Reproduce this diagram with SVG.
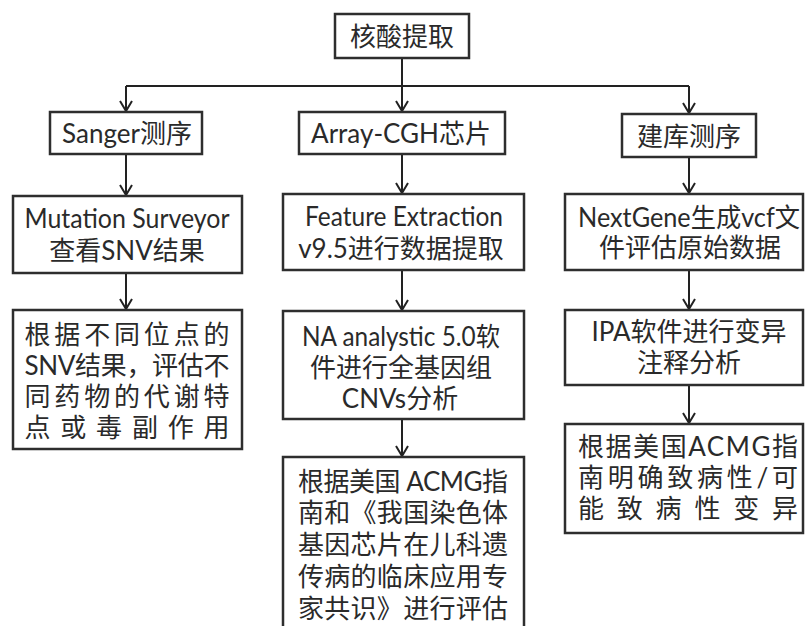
<svg xmlns="http://www.w3.org/2000/svg" width="806" height="626" viewBox="0 0 806 626">
  <style>
    .box { fill: #ffffff; stroke: #2e2e2e; stroke-width: 2.5; }
    .wire { fill: none; stroke: #222222; stroke-width: 2; }
    .t { font-family: Lato, "Noto Sans CJK SC", sans-serif; font-size: 26px; fill: #2a2a2a; text-anchor: middle; }
  </style>
  <defs>
    <marker id="arrow" markerUnits="userSpaceOnUse" markerWidth="14" markerHeight="14" viewBox="0 0 14 14" refX="12" refY="7" orient="auto">
      <path d="M2,1 L12,7 L2,13" fill="none" stroke="#222222" stroke-width="2"/>
    </marker>
  </defs>
  <rect width="806" height="626" fill="#ffffff"/>

  <!-- connectors -->
  <g id="connectors">
    <path class="wire" d="M402,58 V86"/>
    <path class="wire" d="M126,86 H689"/>
    <path class="wire" d="M126,86 V111" marker-end="url(#arrow)"/>
    <path class="wire" d="M402,86 V111" marker-end="url(#arrow)"/>
    <path class="wire" d="M689,86 V113" marker-end="url(#arrow)"/>
    <path class="wire" d="M126,154 V195" marker-end="url(#arrow)"/>
    <path class="wire" d="M126,273 V309" marker-end="url(#arrow)"/>
    <path class="wire" d="M402,154 V193" marker-end="url(#arrow)"/>
    <path class="wire" d="M402,270 V310" marker-end="url(#arrow)"/>
    <path class="wire" d="M402,419 V456" marker-end="url(#arrow)"/>
    <path class="wire" d="M689,157 V193" marker-end="url(#arrow)"/>
    <path class="wire" d="M689,270 V309" marker-end="url(#arrow)"/>
    <path class="wire" d="M689,385 V423" marker-end="url(#arrow)"/>
  </g>

  <g id="n-extract">
    <rect class="box" x="335" y="14" width="134" height="44"/>
    <text class="t" x="402" y="46">核酸提取</text>
  </g>

  <g id="n-sanger">
    <rect class="box" x="50" y="112" width="152" height="42"/>
    <text class="t" x="127" y="143">Sanger测序</text>
  </g>
  <g id="n-array">
    <rect class="box" x="299" y="112" width="206" height="42"/>
    <text class="t" x="401" y="143">Array-CGH芯片</text>
  </g>
  <g id="n-library">
    <rect class="box" x="622" y="114" width="134" height="43"/>
    <text class="t" x="689" y="146">建库测序</text>
  </g>

  <g id="n-mutation">
    <rect class="box" x="13" y="196" width="229" height="77"/>
    <text class="t" x="127" y="228" textLength="205" lengthAdjust="spacingAndGlyphs">Mutation Surveyor</text>
    <text class="t" x="127" y="260">查看SNV结果</text>
  </g>
  <g id="n-feature">
    <rect class="box" x="283" y="194" width="241" height="76"/>
    <text class="t" x="404" y="226" textLength="198" lengthAdjust="spacingAndGlyphs">Feature Extraction</text>
    <text class="t" x="401" y="258">v9.5进行数据提取</text>
  </g>
  <g id="n-nextgene">
    <rect class="box" x="565" y="194" width="238" height="76"/>
    <text class="t" x="689" y="227" textLength="222" lengthAdjust="spacingAndGlyphs">NextGene生成vcf文</text>
    <text class="t" x="690" y="257">件评估原始数据</text>
  </g>

  <g id="n-snv">
    <rect class="box" x="13" y="310" width="229" height="139"/>
    <text class="t" x="127" y="344" textLength="205" lengthAdjust="spacing">根据不同位点的</text>
    <text class="t" x="127" y="375" textLength="205" lengthAdjust="spacing">SNV结果，评估不</text>
    <text class="t" x="127" y="406" textLength="205" lengthAdjust="spacing">同药物的代谢特</text>
    <text class="t" x="127" y="437" textLength="205" lengthAdjust="spacing">点或毒副作用</text>
  </g>
  <g id="n-cnv">
    <rect class="box" x="283" y="311" width="241" height="108"/>
    <text class="t" x="401" y="346" textLength="198" lengthAdjust="spacingAndGlyphs">NA analystic 5.0软</text>
    <text class="t" x="401" y="377">件进行全基因组</text>
    <text class="t" x="400" y="408">CNVs分析</text>
  </g>
  <g id="n-ipa">
    <rect class="box" x="565" y="310" width="238" height="75"/>
    <text class="t" x="689" y="341">IPA软件进行变异</text>
    <text class="t" x="689" y="372">注释分析</text>
  </g>

  <g id="n-guide">
    <rect class="box" x="283" y="457" width="241" height="190"/>
    <text class="t" x="403" y="491" textLength="210" lengthAdjust="spacing">根据美国 ACMG指</text>
    <text class="t" x="403" y="522" textLength="210" lengthAdjust="spacing">南和《我国染色体</text>
    <text class="t" x="403" y="554" textLength="210" lengthAdjust="spacing">基因芯片在儿科遗</text>
    <text class="t" x="403" y="586" textLength="210" lengthAdjust="spacing">传病的临床应用专</text>
    <text class="t" x="403" y="618" textLength="210" lengthAdjust="spacing">家共识》进行评估</text>
  </g>
  <g id="n-acmg">
    <rect class="box" x="565" y="424" width="238" height="109"/>
    <text class="t" x="688" y="456" textLength="220" lengthAdjust="spacing">根据美国ACMG指</text>
    <text class="t" x="688" y="487" textLength="220" lengthAdjust="spacing">南明确致病性/可</text>
    <text class="t" x="688" y="518" textLength="220" lengthAdjust="spacing">能致病性变异</text>
  </g>
</svg>
